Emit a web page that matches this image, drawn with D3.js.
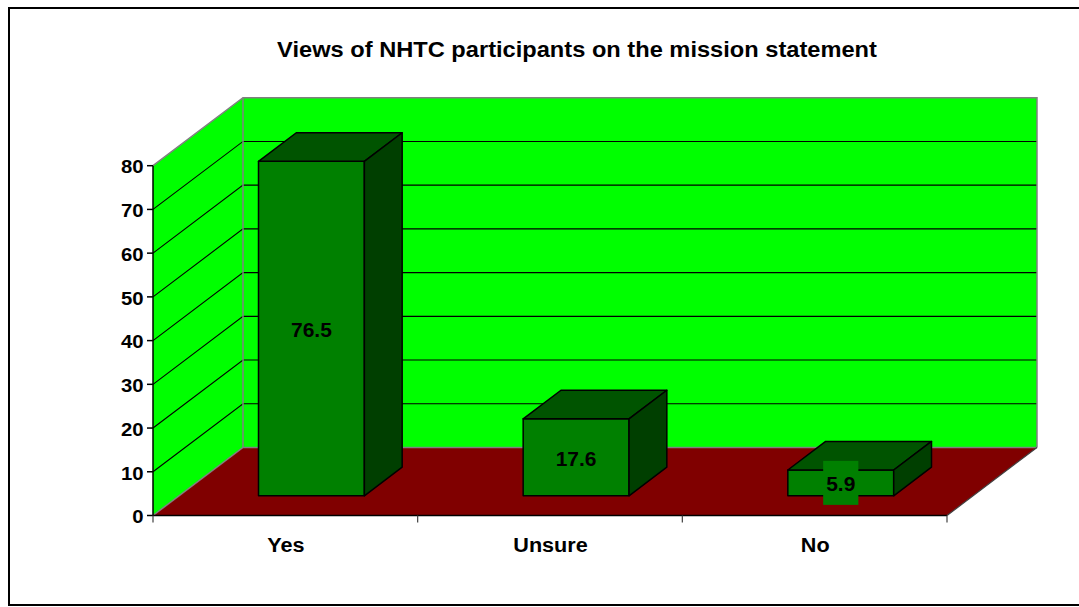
<!DOCTYPE html>
<html>
<head>
<meta charset="utf-8">
<script src="https://cdn.jsdelivr.net/npm/d3@7"></script>
<style>
  html, body { margin: 0; padding: 0; background: #fff; }
  svg { display: block; }
  text { font-family: "Liberation Sans", Arial, sans-serif; font-weight: bold; fill: #000; }
</style>
</head>
<body>
<svg id="chart" width="1079" height="607"></svg>
<script>
// Chart data
const title = "Views of NHTC participants on the mission statement";
const categories = ["Yes", "Unsure", "No"];
const values = [76.5, 17.6, 5.9];
const yTicks = [0, 10, 20, 30, 40, 50, 60, 70, 80];

const svg = d3.select("#chart");

// Outer chart-area border (right edge runs past the canvas)
svg.append("rect")
  .attr("x", 9).attr("y", 8).attr("width", 1100).attr("height", 597)
  .attr("fill", "#fff").attr("stroke", "#000").attr("stroke-width", 2);

// Front plane of the 3D box and the depth offset of the back wall
const x0 = 153, x1 = 947;
const depthX = 90, depthY = -68;
const y = d3.scaleLinear().domain([0, 80]).range([515.5, 165.7]);
const x = d3.scaleBand().domain(categories).range([x0, x1])
  .paddingInner(0.6).paddingOuter(0.3);

// Bars sit between these fractions of the floor depth
const dFront = 0.29, dBack = 0.71;

// Project (front x, value, depth fraction) onto the page
const P = (px, v, d) => [px + d * depthX, y(v) + d * depthY];
const poly = pts => "M" + pts.map(p => p.join(",")).join("L") + "Z";

// Text placed at (tx, ty) with a slight horizontal stretch
function label(sel, tx, ty, sx) {
  return sel.attr("transform", `translate(${tx},${ty}) scale(${sx},1)`);
}

const yMax = 80;

// Back wall
svg.append("path")
  .attr("d", poly([P(x0, 0, 1), P(x1, 0, 1), P(x1, yMax, 1), P(x0, yMax, 1)]))
  .attr("fill", "#00ff00");
// Side wall
svg.append("path")
  .attr("d", poly([P(x0, 0, 0), P(x0, 0, 1), P(x0, yMax, 1), P(x0, yMax, 0)]))
  .attr("fill", "#00ff00");
// Floor
svg.append("path")
  .attr("d", poly([P(x0, 0, 0), P(x1, 0, 0), P(x1, 0, 1), P(x0, 0, 1)]))
  .attr("fill", "#800000");

// Gridlines on the side and back walls
const inner = yTicks.filter(t => t > 0 && t < yMax);
const grid = svg.append("g").attr("stroke", "#000").attr("stroke-width", 1.1).attr("fill", "none");
inner.forEach(t => {
  grid.append("path").attr("d", "M" + P(x0, t, 0) + "L" + P(x0, t, 1) + "L" + P(x1, t, 1));
});

// Wall edges
const edges = svg.append("g").attr("stroke", "#808080").attr("stroke-width", 1.5).attr("fill", "none");
edges.append("path").attr("d", "M" + P(x0, yMax, 0) + "L" + P(x0, yMax, 1) + "L" + P(x1, yMax, 1) + "L" + P(x1, 0, 1));
edges.append("path").attr("d", "M" + P(x0, 0, 1) + "L" + P(x0, yMax, 1));
edges.append("path").attr("d", "M" + P(x0, 0, 0) + "L" + P(x0, 0, 1) + "L" + P(x1, 0, 1));
svg.append("path").attr("d", "M" + P(x1, 0, 0) + "L" + P(x1, 0, 1))
  .attr("stroke", "#404040").attr("stroke-width", 1.2).attr("fill", "none");

// Value axis
const axisG = svg.append("g").attr("stroke", "#000").attr("stroke-width", 1.5);
axisG.append("line").attr("x1", x0).attr("x2", x0).attr("y1", y(0)).attr("y2", y(yMax));
axisG.append("line").attr("x1", x0).attr("x2", x1).attr("y1", y(0)).attr("y2", y(0));
yTicks.forEach(t => {
  axisG.append("line").attr("x1", x0 - 6).attr("x2", x0).attr("y1", y(t)).attr("y2", y(t));
});
svg.append("g").selectAll("text").data(yTicks).join("text")
  .each(function (d) { label(d3.select(this), 143.5, y(d) + 1, 1.07); })
  .attr("text-anchor", "end").attr("dominant-baseline", "central")
  .attr("font-size", 19).text(d => d);

// Category axis ticks at band boundaries
const step = x.step();
const catTicks = d3.range(categories.length + 1).map(i => x0 + i * step);
svg.append("g").attr("stroke", "#404040").attr("stroke-width", 1.2)
  .selectAll("line").data(catTicks).join("line")
  .attr("x1", d => d).attr("x2", d => d).attr("y1", y(0)).attr("y2", y(0) + 7);
svg.append("g").selectAll("text").data(categories).join("text")
  .each(function (d) { label(d3.select(this), x(d) + x.bandwidth() / 2 + 0.5, 552, 1.03); })
  .attr("text-anchor", "middle").attr("font-size", 21).text(d => d);

// 3D bars
const bars = svg.append("g").attr("stroke", "#000").attr("stroke-width", 1.5).attr("stroke-linejoin", "round");
categories.forEach((c, i) => {
  const v = values[i];
  const l = x(c), r = x(c) + x.bandwidth();
  // front face
  bars.append("path").attr("fill", "#008000")
    .attr("d", poly([P(l, 0, dFront), P(r, 0, dFront), P(r, v, dFront), P(l, v, dFront)]));
  // top face
  bars.append("path").attr("fill", "#005400")
    .attr("d", poly([P(l, v, dFront), P(r, v, dFront), P(r, v, dBack), P(l, v, dBack)]));
  // right side
  bars.append("path").attr("fill", "#003f00")
    .attr("d", poly([P(r, 0, dFront), P(r, 0, dBack), P(r, v, dBack), P(r, v, dFront)]));
});

// Value labels centred on each front face
const labels = svg.append("g");
categories.forEach((c, i) => {
  const v = values[i];
  const cx = x(c) + x.bandwidth() / 2 + dFront * depthX;
  const cy = (y(0) + y(v)) / 2 + dFront * depthY;
  const g = labels.append("g");
  const bg = g.append("rect").attr("fill", "#008000");
  const t = label(g.append("text"), cx, cy + 1, 1.05)
    .attr("text-anchor", "middle").attr("dominant-baseline", "central")
    .attr("font-size", 20).text(v.toFixed(1));
  const tw = t.node().getComputedTextLength() * 1.05;
  bg.attr("x", cx - tw / 2 - 3).attr("y", cy - 22).attr("width", tw + 6).attr("height", 44);
});

// Title
label(svg.append("text"), 577, 57, 1.075)
  .attr("text-anchor", "middle").attr("font-size", 22).text(title);
</script>
</body>
</html>
